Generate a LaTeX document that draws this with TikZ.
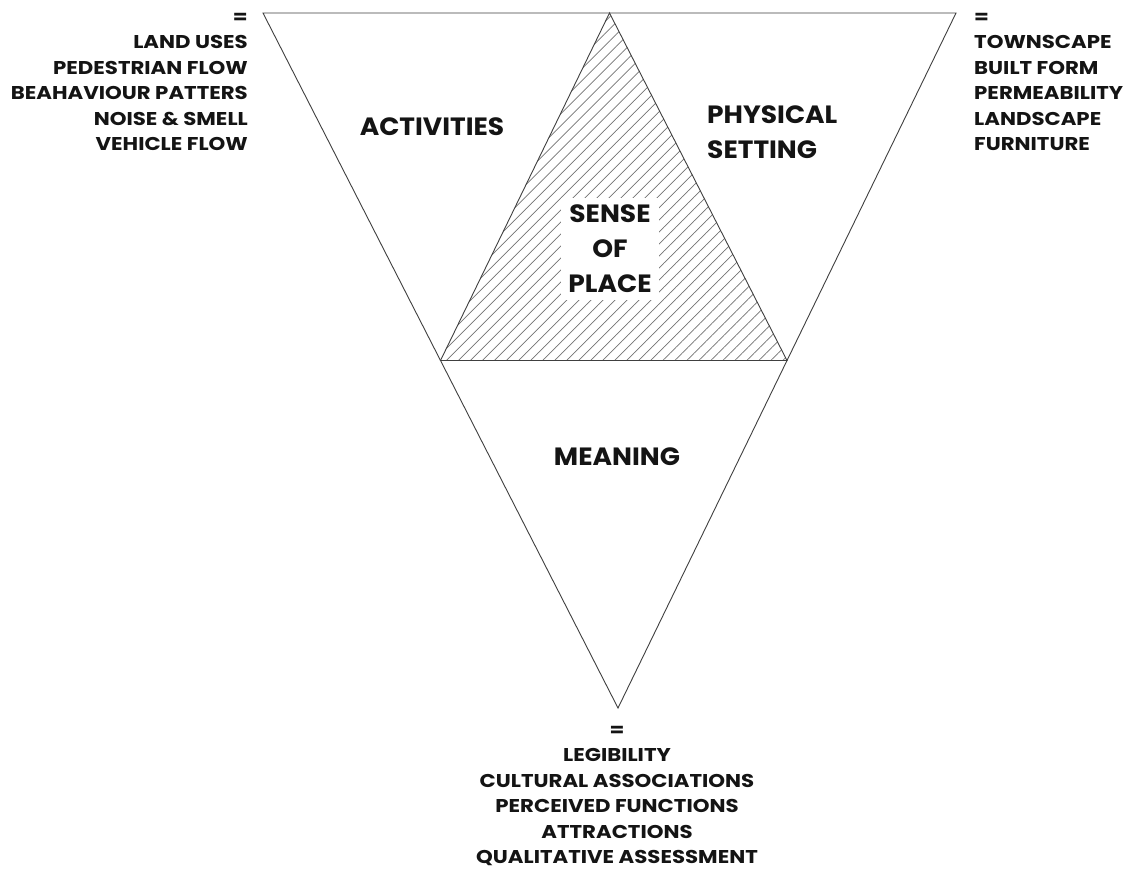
\documentclass[tikz,border=0pt]{standalone}
\usepackage{fontspec}
\setmainfont{Poppins}
\newfontfamily\biggeo{Poppins}[FakeStretch=1.06]
\newfontfamily\listgeo{Poppins}[FakeStretch=1.15]
\usetikzlibrary{calc,patterns.meta}
\begin{document}
\begin{tikzpicture}[x=1pt,y=-1pt,
  edge/.style={draw=black!75,line width=0.9pt,line join=miter},
  hatch/.style={pattern={Lines[angle=45,distance=8.5pt,line width=0.7pt]},pattern color=black!55},
  biglabel/.style={font=\biggeo\fontsize{25}{35}\selectfont\bfseries,text=black!92,inner sep=2pt},
  listlabel/.style={font=\listgeo\fontsize{18.5}{25.4}\selectfont\bfseries,text=black!92,inner sep=0pt}]
\useasboundingbox[fill=white] (0,0) rectangle (1123,879);
\coordinate (TL) at (263,13);
\coordinate (TR) at (956,13);
\coordinate (B) at (618,708);
\coordinate (TM) at ($(TL)!0.5!(TR)$);
\coordinate (LM) at ($(TL)!0.5!(B)$);
\coordinate (RM) at ($(TR)!0.5!(B)$);
\path[hatch] (TM) -- (LM) -- (RM) -- cycle;
\draw[edge] (TL) -- (TR) -- (B) -- cycle;
\draw[edge] (TM) -- (LM) -- (RM) -- cycle;
\node[biglabel] (act) at (432,127) {ACTIVITIES};
\node[biglabel,align=left,anchor=west] (phys) at (705,132) {PHYSICAL\\SETTING};
\node[biglabel,align=center,fill=white,inner sep=7pt] (sop) at (610,249) {SENSE\\OF\\PLACE};
\node[biglabel] (mean) at (617,457) {MEANING};
\node[listlabel,align=right,anchor=north east] (left) at (248,13) {=\\LAND USES\\PEDESTRIAN FLOW\\BEAHAVIOUR PATTERS\\NOISE \& SMELL\\VEHICLE FLOW};
\node[listlabel,align=left,anchor=north west] (right) at (974,13) {=\\TOWNSCAPE\\BUILT FORM\\PERMEABILITY\\LANDSCAPE\\FURNITURE};
\node[listlabel,align=center,anchor=north] (bottom) at (617,726) {=\\LEGIBILITY\\CULTURAL ASSOCIATIONS\\PERCEIVED FUNCTIONS\\ATTRACTIONS\\QUALITATIVE ASSESSMENT};
\end{tikzpicture}
\end{document}
